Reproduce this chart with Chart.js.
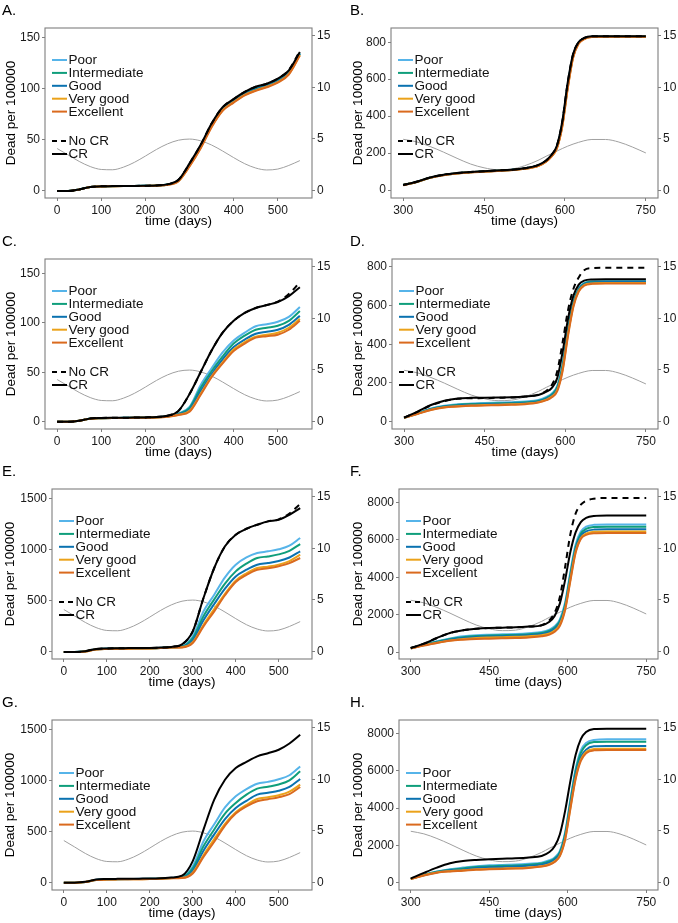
<!DOCTYPE html>
<html>
<head>
<meta charset="utf-8">
<script src="https://cdn.jsdelivr.net/npm/chart.js@4.4.1/dist/chart.umd.min.js"></script>
<style>
  body { margin: 0; background: #fff; }
  #wrap { position: relative; width: 678px; height: 923px; }
  #wrap canvas { position: absolute; }
</style>
</head>
<body>
<div id="wrap"></div>
<script>
// time grids (days)
const daysL = [0,25,50,75,100,125,150,175,200,225,250,275,300,325,350,375,400,425,450,475,500,525,550];
const daysR = [300,325,350,375,400,425,450,475,500,525,550,565,575,585,595,605,615,625,635,650,675,700,725,750];

const xTicksL = [0,100,200,300,400,500];
const xTicksR = [300,450,600,750];
const ticksSmall = [0,50,100,150];
const ticksMid = [0,200,400,600,800];
const ticksLarge = [0,500,1000,1500];
const ticksHuge = [0,2000,4000,6000,8000];
const ticksRight = [0,5,10,15];

const classNames = ['Poor','Intermediate','Good','Very good','Excellent'];
const classColors = ['#56B4E9','#0F9E7B','#0A72B0','#EBA21A','#DA6A1E'];

// seasonal curve (right axis)
const grayL = [4.05,3.43,2.80,2.30,2.02,1.99,2.24,2.71,3.32,3.96,4.5,4.86,4.97,4.80,4.39,3.81,3.17,2.58,2.16,1.97,2.06,2.41,2.88];
const grayR = [4.95,4.7,4.25,3.7,3.1,2.55,2.18,2.0,2.05,2.38,2.9,3.3,3.55,3.8,4.05,4.28,4.48,4.65,4.8,4.93,4.93,4.68,4.2,3.62];

// A
const aCR = [0,0,1.5,4,4.6,4.8,5,5,5.2,5.5,6.5,11,27,45,66,82,90,97,102,105,110,118,136];
const aNoCR = [0,0,1.5,4,4.6,4.8,5,5,5.2,5.5,6.5,11,27,45,66,82,90,97,102,105,110,118.5,137];
const aPoor = [0,0,1.5,4,4.5,4.7,4.9,4.9,5.1,5.4,6.4,10.5,26,44,65,81,89,96,101,104,109,117,135];
const aInter = [0,0,1.5,4,4.5,4.7,4.9,4.9,5.1,5.4,6.3,10.3,25.5,43.5,64.5,80,88.5,95.5,100,103.5,108,116,134.5];
const aGood = [0,0,1.5,3.9,4.4,4.6,4.8,4.8,5,5.3,6.2,10,25,43,64,79.5,88,95,99.5,103,107.5,115.5,134];
const aVeryGood = [0,0,1.5,3.9,4.4,4.6,4.8,4.8,5,5.3,6.1,9.8,24.5,42,63,79,87,94,98.5,102,106.5,114.5,133];
const aExcellent = [0,0,1.4,3.9,4.4,4.6,4.8,4.8,5,5.2,6,9.6,24,41.5,62.5,78.5,86.5,93.5,98,101.5,106,114,132.5];

// B
const bCR = [27,45,68,83,92,98,102,106,110,118,135,160,190,240,370,580,735,800,822,832,833,833,833,833];
const bNoCR = [27,45,68,83,92,98,102,106,110,118,135,160,190,240,370,580,735,800,822,832,833,833,833,833];
const bPoor = [27,45,67,82,91,97,101,105,109,117,133,157,186,234,360,568,728,797,820,830,831,831,831,831];
const bInter = [27,44,67,82,91,97,101,105,109,116,132,156,185,232,356,563,725,796,819,830,831,831,831,831];
const bGood = [27,44,66,81,90,96,100,104,108,116,131,155,183,229,350,556,721,794,818,829,830,830,830,830];
const bVeryGood = [27,44,66,81,90,96,100,104,108,115,130,154,182,226,345,550,717,792,817,828,829,829,829,829];
const bExcellent = [26,44,66,80,89,95,99,103,107,115,130,153,181,225,342,546,715,791,816,828,829,829,829,829];

// C
const cCR = [0,0,1,3.3,3.8,4,4.1,4.2,4.4,4.8,6,11,28,50,72,90,102,110,115,118,121,127,136];
const cNoCR = [0,0,1,3.3,3.8,4,4.1,4.2,4.4,4.8,6,11,28,50,72,90,102,110,115,118,121.5,129,141];
const cPoor = [0,0,1,3.2,3.6,3.8,3.9,4,4.2,4.6,5.6,8.5,15,37,54,70,82,90,96.5,98.5,101,106,116];
const cInter = [0,0,1,3.2,3.6,3.8,3.9,4,4.2,4.5,5.5,8,14,34,51,66,79,87,93,95,97,102,112];
const cGood = [0,0,1,3.1,3.5,3.7,3.8,3.9,4.1,4.4,5.3,7.5,12.5,31,48,63,75.5,83,89,91,93,98,107];
const cVeryGood = [0,0,1,3.1,3.5,3.7,3.8,3.9,4.1,4.4,5.2,7,11,28,46,60,73,80.5,86,88,90,95,104];
const cExcellent = [0,0,1,3.1,3.5,3.7,3.8,3.9,4,4.3,5.1,6.8,10,27,45,59,71.5,79,85,86.5,88,93,102];

// D
const dCR = [21,52,86,108,120,123,124,125,126,130,138,155,175,225,360,530,650,708,728,734,735,735,735,735];
const dNoCR = [21,51,84,106,118,121,122,124,125,130,140,160,190,260,410,575,685,745,782,793,795,795,795,795];
const dPoor = [20,44,68,82,90,94,97,99,101,104,112,128,146,185,300,480,620,690,715,724,726,726,726,726];
const dInter = [20,43,66,80,87,91,93,95,97,100,108,123,140,178,290,470,612,686,713,722,723,723,723,723];
const dGood = [20,42,64,78,84,88,90,92,94,97,105,119,135,170,280,460,605,682,710,719,721,721,721,721];
const dVeryGood = [20,41,62,75,80,84,86,88,90,93,101,114,130,163,270,450,598,676,705,714,716,716,716,716];
const dExcellent = [20,40,60,73,78,82,84,85,87,90,99,111,126,158,262,442,592,672,702,712,714,714,714,714];

// E
const eCR = [0,0,8,30,35,37,38,39,40,43,50,75,202,528,822,1034,1148,1206,1245,1278,1294,1343,1408];
const eNoCR = [0,0,8,30,35,37,38,39,40,43,50,75,202,528,822,1034,1148,1206,1245,1278,1298,1355,1448];
const ePoor = [0,0,7,28,33,35,36,37,38,41,47,57,153,398,561,730,854,925,968,985,1005,1040,1115];
const eInter = [0,0,7,27,32,34,35,36,37,40,46,54,135,350,515,670,789,865,920,935,955,990,1056];
const eGood = [0,0,6,26,31,33,34,35,36,39,45,50,115,310,470,620,740,805,854,870,890,925,985];
const eVeryGood = [0,0,6,25,30,32,33,34,35,38,44,47,95,265,420,570,698,770,822,835,855,890,952];
const eExcellent = [0,0,6,25,30,32,33,34,35,38,43,45,88,251,398,555,685,755,805,820,840,870,920];

// F
const fCR = [214,446,749,1016,1159,1240,1283,1300,1319,1360,1426,1620,1930,2600,3850,5350,6400,6950,7170,7273,7300,7300,7300,7300];
const fNoCR = [214,446,749,1016,1159,1240,1283,1300,1319,1360,1430,1700,2100,2950,4550,6300,7400,7880,8090,8200,8235,8235,8235,8235];
const fPoor = [210,400,570,720,838,900,927,945,962,1000,1070,1200,1380,1750,2650,4300,5750,6450,6700,6800,6820,6820,6820,6820];
const fInter = [205,385,545,690,795,855,880,898,915,950,1020,1140,1310,1660,2530,4150,5620,6330,6580,6680,6700,6700,6700,6700];
const fGood = [200,370,520,655,745,805,830,848,865,900,965,1070,1240,1570,2420,4000,5500,6200,6450,6545,6560,6560,6560,6560];
const fVeryGood = [195,355,495,620,695,750,775,792,810,842,900,990,1150,1470,2320,3880,5380,6100,6330,6425,6440,6440,6440,6440];
const fExcellent = [190,350,480,600,660,700,713,730,749,780,838,930,1080,1400,2250,3800,5300,6050,6260,6350,6370,6370,6370,6370];

// G
const gCR = [0,0,8,30,35,37,38,39,40,43,50,68,211,519,812,1006,1120,1180,1234,1265,1299,1360,1445];
const gPoor = [0,0,7,28,33,35,36,37,38,41,47,57,160,405,570,735,844,915,967,985,1010,1050,1136];
const gInter = [0,0,7,27,32,34,35,36,37,40,46,54,140,355,520,675,779,860,919,938,960,1000,1088];
const gGood = [0,0,6,26,31,33,34,35,36,39,45,50,118,312,472,622,730,800,860,878,898,935,1013];
const gVeryGood = [0,0,6,25,30,32,33,34,35,38,44,47,98,268,425,575,688,760,818,835,855,890,958];
const gExcellent = [0,0,6,25,30,32,33,34,35,38,43,45,90,252,400,558,675,745,795,815,835,865,935];

// H
const hCR = [215,520,805,1038,1163,1220,1252,1280,1306,1350,1431,1640,1950,2600,3850,5450,6850,7700,8080,8247,8265,8265,8265,8265];
const hPoor = [205,420,600,720,805,880,930,950,966,1010,1073,1200,1350,1700,2700,4450,6100,7100,7500,7660,7692,7692,7692,7692];
const hInter = [203,410,580,690,760,840,880,900,920,960,1030,1150,1300,1640,2610,4340,5980,6970,7380,7545,7567,7567,7567,7567];
const hGood = [200,400,560,665,705,785,820,840,860,900,965,1080,1240,1560,2480,4180,5800,6740,7140,7315,7335,7335,7335,7335];
const hVeryGood = [198,390,540,615,665,715,740,760,775,815,880,990,1140,1460,2350,4020,5620,6600,7010,7175,7191,7191,7191,7191];
const hExcellent = [195,380,530,600,640,690,715,735,751,790,859,960,1110,1420,2300,3950,5550,6530,6950,7100,7120,7120,7120,7120];

const FONT = '"Liberation Sans", Arial, Helvetica, sans-serif';
Chart.defaults.font.family = FONT;

const panels = [
  {letter:'A.', col:0, row:0, days:daysL, gray:grayL, xr:[-27.5,577.5], xTicks:xTicksL, yr:[-6.85,159.5], yTicks:ticksSmall, left:45, tPad:3,
   classes:[aPoor,aInter,aGood,aVeryGood,aExcellent], noCR:aNoCR, cr:aCR, legendTop:32, showCR:true},
  {letter:'B.', col:1, row:0, days:daysR, gray:grayR, xr:[277.5,772.5], xTicks:xTicksR, yr:[-43,877], yTicks:ticksMid, left:52, tPad:11,
   classes:[bPoor,bInter,bGood,bVeryGood,bExcellent], noCR:bNoCR, cr:bCR, legendTop:32, showCR:true},
  {letter:'C.', col:0, row:1, days:daysL, gray:grayL, xr:[-27.5,577.5], xTicks:xTicksL, yr:[-7.35,164.5], yTicks:ticksSmall, left:45, tPad:3,
   classes:[cPoor,cInter,cGood,cVeryGood,cExcellent], noCR:cNoCR, cr:cCR, legendTop:32, showCR:true},
  {letter:'D.', col:1, row:1, days:daysR, gray:grayR, xr:[277.5,772.5], xTicks:xTicksR, yr:[-37.7,840], yTicks:ticksMid, left:53, tPad:11,
   classes:[dPoor,dInter,dGood,dVeryGood,dExcellent], noCR:dNoCR, cr:dCR, legendTop:32, showCR:true},
  {letter:'E.', col:0, row:2, days:daysL, gray:grayL, xr:[-27.5,577.5], xTicks:xTicksL, yr:[-68.5,1595], yTicks:ticksLarge, left:52, tPad:2,
   classes:[ePoor,eInter,eGood,eVeryGood,eExcellent], noCR:eNoCR, cr:eCR, legendTop:32, showCR:true},
  {letter:'F.', col:1, row:2, days:daysR, gray:grayR, xr:[277.5,772.5], xTicks:xTicksR, yr:[-374,8717], yTicks:ticksHuge, left:60, tPad:11,
   classes:[fPoor,fInter,fGood,fVeryGood,fExcellent], noCR:fNoCR, cr:fCR, legendTop:32, showCR:true},
  {letter:'G.', col:0, row:3, days:daysL, gray:grayL, xr:[-27.5,577.5], xTicks:xTicksL, yr:[-72,1590], yTicks:ticksLarge, left:52, tPad:2,
   classes:[gPoor,gInter,gGood,gVeryGood,gExcellent], noCR:null, cr:gCR, legendTop:53, showCR:false},
  {letter:'H.', col:1, row:3, days:daysR, gray:grayR, xr:[277.5,772.5], xTicks:xTicksR, yr:[-397,8730], yTicks:ticksHuge, left:60, tPad:11,
   classes:[hPoor,hInter,hGood,hVeryGood,hExcellent], noCR:null, cr:hCR, legendTop:53, showCR:false}
];

const rowTops = [0, 231, 461, 692];

// frame, panel letter and inside legend
const deco = {
  id: 'deco',
  afterDraw(chart, args, o) {
    const {ctx, chartArea: a} = chart;
    ctx.save();
    ctx.strokeStyle = '#7f7f7f';
    ctx.lineWidth = 1.1;
    ctx.strokeRect(a.left, a.top, a.right - a.left, a.bottom - a.top);

    ctx.fillStyle = '#000';
    ctx.font = '15px ' + FONT;
    ctx.textBaseline = 'alphabetic';
    ctx.fillText(o.letter, o.letterX, 15);

    ctx.font = '13.5px ' + FONT;
    ctx.textBaseline = 'middle';
    const x0 = a.left + 7;
    const key = (y, color, dash, label) => {
      ctx.strokeStyle = color;
      ctx.lineWidth = 2;
      ctx.setLineDash(dash);
      ctx.beginPath();
      ctx.moveTo(x0, y);
      ctx.lineTo(x0 + 15, y);
      ctx.stroke();
      ctx.setLineDash([]);
      ctx.fillStyle = '#111';
      ctx.fillText(label, x0 + 16.5, y + 0.5);
    };
    classNames.forEach((n, i) => key(a.top + o.legendTop + i * 12.9, classColors[i], [], n));
    if (o.showCR) {
      key(a.top + 113, '#000', [5, 4], 'No CR');
      key(a.top + 126, '#000', [], 'CR');
    }
    ctx.restore();
  }
};

const wrap = document.getElementById('wrap');

panels.forEach(p => {
  const cv = document.createElement('canvas');
  cv.width = 339;
  cv.height = 231;
  cv.style.left = (p.col * 339) + 'px';
  cv.style.top = rowTops[p.row] + 'px';
  wrap.appendChild(cv);

  const pts = arr => p.days.map((d, i) => ({x: d, y: arr[i]}));
  const line = (arr, color, width, dash, axis) => ({
    data: pts(arr), borderColor: color, borderWidth: width, borderDash: dash,
    pointRadius: 0, fill: false, cubicInterpolationMode: 'monotone', yAxisID: axis
  });

  const datasets = [line(p.cr, '#000', 2, [], 'y')];
  if (p.noCR) datasets.push(line(p.noCR, '#000', 2, [6, 5], 'y'));
  for (let i = 4; i >= 0; i--) datasets.push(line(p.classes[i], classColors[i], 2, [], 'y'));
  datasets.push(line(p.gray, '#a0a0a0', 1, [], 'y2'));

  const tickFont = {size: 12};
  const grid = {drawOnChartArea: false, drawTicks: true, tickLength: 3, color: '#7f7f7f'};

  new Chart(cv, {
    type: 'line',
    data: {datasets},
    plugins: [deco],
    options: {
      responsive: false,
      animation: false,
      devicePixelRatio: 1,
      layout: {padding: {top: 28, left: 0, right: 0, bottom: 0}},
      plugins: {
        legend: {display: false},
        tooltip: {enabled: false},
        deco: {letter: p.letter, letterX: p.col ? 11 : 2, legendTop: p.legendTop, showCR: p.showCR}
      },
      scales: {
        x: {
          type: 'linear', min: p.xr[0], max: p.xr[1],
          afterBuildTicks: s => { s.ticks = p.xTicks.map(v => ({value: v})); },
          afterFit: s => { s.height = 33; },
          grid, border: {display: false},
          ticks: {color: '#1a1a1a', font: tickFont, padding: 2, maxRotation: 0, autoSkip: false, callback: v => String(v)},
          title: {display: true, text: 'time (days)', color: '#000', font: {size: 13.5}, padding: {top: 0, bottom: 2}}
        },
        y: {
          type: 'linear', position: 'left', min: p.yr[0], max: p.yr[1],
          afterBuildTicks: s => { s.ticks = p.yTicks.map(v => ({value: v})); },
          afterFit: s => { s.width = p.left; },
          grid, border: {display: false},
          ticks: {color: '#1a1a1a', font: tickFont, padding: 2, autoSkip: false, callback: v => String(v)},
          title: {display: true, text: 'Dead per 100000', color: '#000', font: {size: 13.5}, padding: {top: p.tPad, bottom: 0}}
        },
        y2: {
          type: 'linear', position: 'right', min: -0.75, max: 15.75,
          afterBuildTicks: s => { s.ticks = ticksRight.map(v => ({value: v})); },
          afterFit: s => { s.width = p.col ? 20 : 27; },
          grid, border: {display: false},
          ticks: {color: '#1a1a1a', font: tickFont, padding: 2, autoSkip: false, callback: v => String(v)}
        }
      }
    }
  });
});
</script>
</body>
</html>
